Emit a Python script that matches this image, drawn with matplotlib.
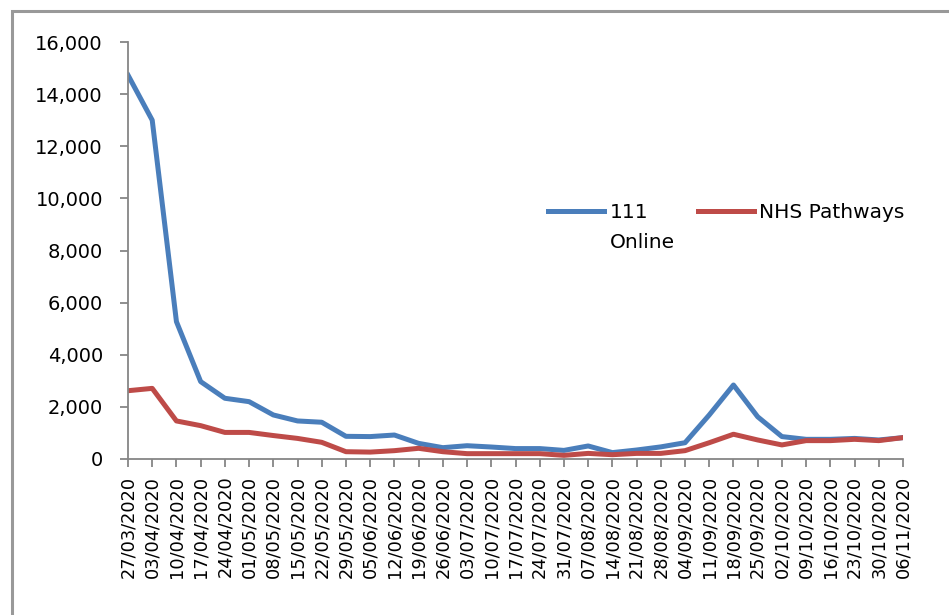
"""Weekly 111 Online vs NHS Pathways counts, March–November 2020."""

import matplotlib

matplotlib.use("Agg")
import matplotlib.pyplot as plt  # noqa: E402
from matplotlib.legend_handler import HandlerLine2D  # noqa: E402
from matplotlib.patches import Rectangle  # noqa: E402
from matplotlib.ticker import FuncFormatter, MultipleLocator  # noqa: E402

weeks = [
    "27/03/2020", "03/04/2020", "10/04/2020", "17/04/2020", "24/04/2020",
    "01/05/2020", "08/05/2020", "15/05/2020", "22/05/2020", "29/05/2020",
    "05/06/2020", "12/06/2020", "19/06/2020", "26/06/2020", "03/07/2020",
    "10/07/2020", "17/07/2020", "24/07/2020", "31/07/2020", "07/08/2020",
    "14/08/2020", "21/08/2020", "28/08/2020", "04/09/2020", "11/09/2020",
    "18/09/2020", "25/09/2020", "02/10/2020", "09/10/2020", "16/10/2020",
    "23/10/2020", "30/10/2020", "06/11/2020",
]

online_111 = [
    14730, 13000, 5270, 2970, 2330, 2200, 1690, 1460, 1410, 870,
    860, 920, 600, 435, 510, 460, 400, 400, 330, 500,
    245, 345, 465, 625, 1690, 2840, 1620, 860, 755, 755,
    790, 730, 820,
]

nhs_pathways = [
    2620, 2710, 1460, 1280, 1020, 1020, 900, 790, 640, 280,
    265, 320, 410, 280, 205, 205, 205, 205, 140, 215,
    165, 215, 215, 320, 625, 950, 730, 540, 705, 705,
    755, 705, 820,
]

BLUE = "#4A7EBB"
RED = "#BE4B48"
AXIS_GREY = "#868686"
LEGEND_LINESPACING = 1.7


class RaisedLine(HandlerLine2D):
    """Legend line drawn level with the first row of a two-line label."""

    def __init__(self, raise_by=0.0, **kw):
        super().__init__(**kw)
        self.raise_by = raise_by

    def create_artists(self, legend, orig_handle, xdescent, ydescent,
                       width, height, fontsize, trans):
        return super().create_artists(
            legend, orig_handle, xdescent, ydescent - self.raise_by * fontsize,
            width, height, fontsize, trans)


fig = plt.figure(figsize=(9.49, 6.15), dpi=100)
ax = fig.add_axes([128 / 949, 1 - 459 / 615, (903 - 128) / 949, (459 - 42) / 615])

x = list(range(len(weeks)))
h_online, = ax.plot(x, online_111, color=BLUE, lw=3.6, solid_joinstyle="round",
                    label="111\nOnline")
# trailing blank row keeps both legend labels two lines tall, top-aligned
h_nhs, = ax.plot(x, nhs_pathways, color=RED, lw=3.6, solid_joinstyle="round",
                 label="NHS Pathways\n ")

ax.set_xlim(0, len(weeks) - 1)
ax.set_ylim(0, 16000)
ax.yaxis.set_major_locator(MultipleLocator(2000))
ax.yaxis.set_major_formatter(FuncFormatter(lambda v, _: f"{v:,.0f}"))
ax.set_xticks(x)
ax.set_xticklabels(weeks, rotation=90, fontsize=12.8, family="DejaVu Sans")

for lbl in ax.get_yticklabels():
    lbl.set_fontsize(14)

for side in ("top", "right"):
    ax.spines[side].set_visible(False)
for side in ("left", "bottom"):
    ax.spines[side].set_color(AXIS_GREY)
    ax.spines[side].set_linewidth(1.3)
ax.tick_params(axis="y", direction="out", length=6, width=1.3, color=AXIS_GREY,
               pad=12, labelcolor="black")
ax.tick_params(axis="x", direction="out", length=6, width=1.3, color=AXIS_GREY,
               pad=6, labelcolor="black")

raise_by = LEGEND_LINESPACING
leg = ax.legend(
    handles=[h_online, h_nhs],
    handler_map={h_online: RaisedLine(raise_by=raise_by),
                 h_nhs: RaisedLine(raise_by=raise_by)},
    ncol=2, frameon=False, fontsize=14.5, handlelength=2.8, handletextpad=0.25,
    columnspacing=1.15, loc="upper left",
    bbox_to_anchor=(548 / 949, 1 - 203 / 615), bbox_transform=fig.transFigure,
    borderaxespad=0, borderpad=0, labelspacing=0.2,
)
for t in leg.get_texts():
    t.set_linespacing(LEGEND_LINESPACING)

# chart-area border (only top and left edges fall inside the canvas)
fig.patches.append(Rectangle((12 / 949, -0.1), 1.2, 1.1 - 11 / 615,
                             transform=fig.transFigure, fill=False,
                             edgecolor="#999999", lw=2.2, zorder=0))

fig.savefig("out.png", dpi=100)
plt.close(fig)
